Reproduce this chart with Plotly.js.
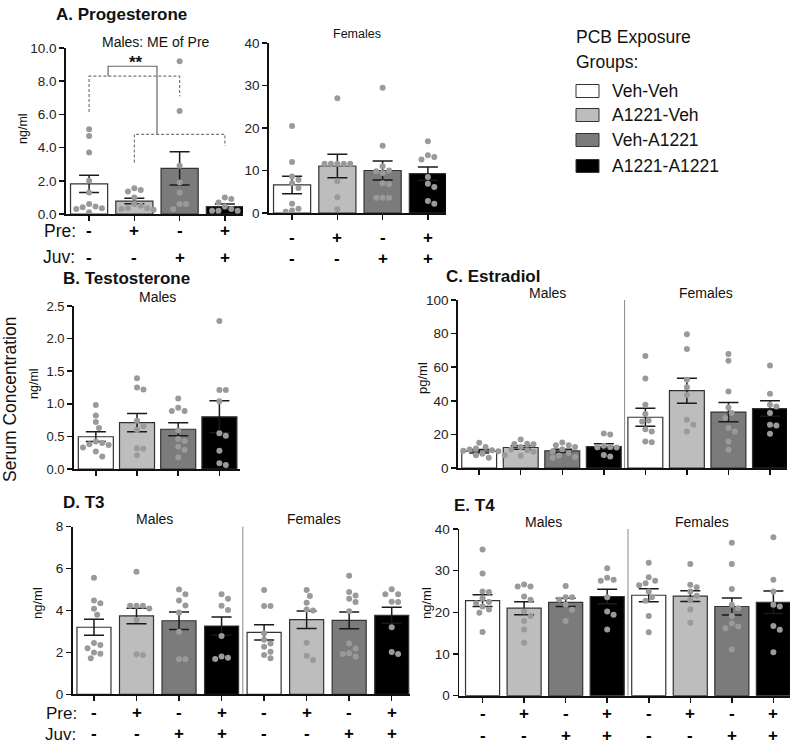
<!DOCTYPE html>
<html><head><meta charset="utf-8">
<script src="https://cdn.plot.ly/plotly-3.0.1.min.js"></script>
<style>html,body{margin:0;padding:0;background:#fff}#chart{width:800px;height:749px}</style>
</head><body><div id="chart"></div>
<script>
const FONT = 'Liberation Sans, Arial, Helvetica, sans-serif';
const W = 800, H = 749;
const fx = px => px / W;
const fy = py => 1 - py / H;

// ---------- data ----------
const groups = ['Veh-Veh', 'A1221-Veh', 'Veh-A1221', 'A1221-A1221'];
const groupColors = ['#ffffff', '#bdbdbd', '#7b7b7b', '#000000'];
const preSigns = ['-', '+', '-', '+'];
const juvSigns = ['-', '-', '+', '+'];

// A. Progesterone, males (ng/ml)
const progMalesMean = [1.81, 0.78, 2.75, 0.44];
const progMalesSem = [0.52, 0.17, 1.0, 0.16];
const progMalesPts = [
  [5.1, 4.7, 3.7, 2.0, 1.3, 0.6, 0.45, 0.4, 0.35, 0.3, 0.1],
  [1.55, 1.45, 1.35, 1.0, 0.6, 0.5, 0.35, 0.3, 0.25, 0.35],
  [9.2, 6.2, 2.9, 1.9, 1.3, 0.6, 0.6, 0.3],
  [1.0, 0.9, 0.7, 0.45, 0.3, 0.2, 0.2, 0.2]
];
// A. Progesterone, females (ng/ml)
const progFemMean = [6.6, 11.06, 10.0, 9.27];
const progFemSem = [2.05, 2.75, 2.25, 1.55];
const progFemPts = [
  [20.5, 12.0, 8.6, 7.8, 7.0, 5.9, 2.2, 1.0, 0.6, 0.3],
  [27.0, 11.6, 11.6, 11.6, 11.6, 11.6, 7.5, 3.7, 0.9],
  [29.5, 15.8, 11.0, 10.0, 9.8, 9.4, 7.0, 6.8, 3.6, 3.6, 3.6],
  [16.9, 13.6, 13.2, 12.6, 8.5, 6.9, 6.1, 2.8, 2.2]
];
// B. Testosterone, males (ng/ml)
const testoMean = [0.495, 0.71, 0.61, 0.80];
const testoSem = [0.075, 0.14, 0.10, 0.245];
const testoPts = [
  [0.98, 0.82, 0.72, 0.63, 0.42, 0.40, 0.38, 0.37, 0.33, 0.27, 0.19],
  [1.39, 1.25, 1.22, 0.74, 0.66, 0.60, 0.32, 0.31, 0.21],
  [1.08, 0.94, 0.89, 0.89, 0.59, 0.46, 0.43, 0.34, 0.29, 0.18],
  [2.27, 1.21, 1.21, 1.04, 0.55, 0.51, 0.28, 0.09, 0.06]
];
// C. Estradiol (pg/ml): males 4 groups, then females 4 groups
const estraMean = [10.0, 12.2, 10.2, 12.7, 30.2, 46.0, 33.3, 35.4];
const estraSem = [1.0, 1.0, 1.0, 1.7, 5.3, 7.4, 5.75, 4.65];
const estraPts = [
  [15.0, 12.5, 11.6, 11.0, 10.5, 10.2, 10.0, 9.6, 8.5, 7.6, 7.6, 6.1],
  [17.0, 14.5, 14.3, 14.1, 12.5, 11.0, 10.6, 9.6, 7.3],
  [15.2, 13.5, 13.6, 12.5, 11.2, 10.0, 9.0, 7.5, 6.5, 6.1],
  [20.6, 20.0, 13.2, 12.5, 12.4, 12.2, 7.8, 6.9],
  [66.7, 53.3, 37.6, 32.1, 28.3, 27.7, 23.0, 21.8, 15.8, 15.4],
  [79.6, 70.9, 52.5, 48.0, 43.5, 28.7, 25.7, 21.8],
  [67.9, 63.8, 45.5, 36.0, 32.7, 29.7, 23.8, 21.8, 15.8, 10.9],
  [61.0, 44.2, 37.6, 36.6, 32.7, 25.7, 25.3, 20.4]
];
// D. T3 (ng/ml)
const t3Mean = [3.2, 3.74, 3.51, 3.26, 2.96, 3.56, 3.53, 3.77];
const t3Sem = [0.385, 0.37, 0.415, 0.43, 0.365, 0.415, 0.4, 0.38];
const t3Pts = [
  [5.56, 4.48, 4.35, 4.08, 3.8, 2.45, 2.35, 2.2, 1.99, 1.93, 1.72],
  [5.85, 4.23, 4.23, 4.23, 4.1, 3.55, 1.91, 1.88],
  [5.0, 4.77, 4.48, 4.24, 3.9, 2.99, 1.67, 1.67],
  [4.77, 4.56, 4.23, 4.02, 2.78, 1.8, 1.75, 1.69],
  [4.98, 4.21, 4.21, 2.92, 2.6, 2.43, 2.27, 2.03, 1.88, 1.72],
  [4.98, 4.69, 4.37, 4.05, 4.0, 2.46, 1.84, 1.64],
  [5.66, 4.88, 4.72, 4.56, 4.4, 3.97, 2.43, 2.19, 1.96, 1.92, 1.8],
  [5.02, 4.77, 4.77, 4.42, 4.4, 3.2, 2.02, 1.92]
];
// E. T4 (ng/ml)
const t4Mean = [22.8, 21.0, 22.4, 23.8, 24.1, 23.9, 21.4, 22.4];
const t4Sem = [1.4, 1.55, 1.0, 1.75, 1.55, 1.3, 2.05, 2.7];
const t4Pts = [
  [35.1, 29.3, 25.0, 24.9, 23.4, 22.5, 22.2, 21.4, 20.7, 19.9, 15.3],
  [26.7, 26.2, 26.2, 23.8, 23.0, 20.2, 19.1, 17.9, 15.9, 12.7],
  [26.3, 23.6, 23.6, 23.0, 21.8, 20.6, 17.9],
  [30.6, 28.3, 27.8, 27.6, 23.6, 20.2, 19.4, 15.9],
  [31.9, 28.4, 27.6, 27.0, 26.5, 25.0, 23.6, 22.8, 19.1, 15.2],
  [31.6, 26.6, 26.0, 25.0, 24.0, 23.0, 20.7, 17.5],
  [36.7, 31.6, 25.6, 21.8, 21.0, 19.1, 17.4, 16.6, 16.2, 11.1],
  [38.0, 27.8, 25.0, 21.8, 21.4, 16.7, 15.8, 10.4]
];
// significance brackets in panel A (males), in data units
const sigBrackets = [
  {x0: 0, x1: 2, top: 8.3, left: 6.15, right: 7.1, dash: '3px,2px'},
  {x0: 1, x1: 3, top: 4.8, left: 3.1, right: 4.1, dash: '3px,2px'},
  {x0: 0.42, x1: 1.5, top: 8.9, left: 8.3, right: 4.8, dash: 'solid'}
];
const sigText = '**';

// ---------- panel geometry ----------
const panels = [
  {xa: 'x',  ya: 'y',  xpx: [66, 243],    ypx: [48, 214],      xr: [-0.51, 3.4],  yr: [0, 10],  dtick: 2,   fmt: '.1f', bw: 0.82, fs: 13.5, mean: progMalesMean, sem: progMalesSem, pts: progMalesPts},
  {xa: 'x2', ya: 'y2', xpx: [269, 446],   ypx: [43, 213],      xr: [-0.51, 3.4],  yr: [0, 40],  dtick: 10,  fmt: 'd',   bw: 0.82, fs: 13.5, mean: progFemMean, sem: progFemSem, pts: progFemPts},
  {xa: 'x3', ya: 'y3', xpx: [74, 240],    ypx: [306, 469],     xr: [-0.53, 3.5],  yr: [0, 2.5], dtick: 0.5, fmt: '.1f', bw: 0.85, fs: 13,   mean: testoMean, sem: testoSem, pts: testoPts},
  {xa: 'x4', ya: 'y4', xpx: [458, 787],   ypx: [300, 468],     xr: [-0.51, 7.41], yr: [0, 100], dtick: 20,  fmt: 'd',   bw: 0.84, fs: 13.5, mean: estraMean, sem: estraSem, pts: estraPts, divider: true},
  {xa: 'x5', ya: 'y5', xpx: [72.7, 410],  ypx: [526.7, 694.3], xr: [-0.5, 7.43],  yr: [0, 8],   dtick: 2,   fmt: 'd',   bw: 0.8,  fs: 13.5, mean: t3Mean, sem: t3Sem, pts: t3Pts, divider: true},
  {xa: 'x6', ya: 'y6', xpx: [459.3, 790], ypx: [529, 695.7],   xr: [-0.56, 7.4],  yr: [0, 40],  dtick: 10,  fmt: 'd',   bw: 0.82, fs: 13.5, mean: t4Mean, sem: t4Sem, pts: t4Pts, divider: true}
];

function swarm(vals, center, pxX, pxY, d) {
  const order = vals.map((v, i) => i).sort((a, b) => vals[b] - vals[a]);
  const placed = [];
  const xs = new Array(vals.length);
  const cands = [0];
  for (let k = 1; k < 16; k++) { cands.push(k * d * 0.5, -k * d * 0.5); }
  for (const i of order) {
    const yp = vals[i] * pxY;
    let chosen = 0;
    for (const c of cands) {
      if (placed.every(p => Math.hypot(p.x - c, p.y - yp) >= d)) { chosen = c; break; }
    }
    placed.push({x: chosen, y: yp});
    xs[i] = center + chosen / pxX;
  }
  return xs;
}

const traces = [];
const layout = {
  width: W, height: H, margin: {l: 0, r: 0, t: 0, b: 0},
  paper_bgcolor: '#ffffff', plot_bgcolor: 'rgba(0,0,0,0)', showlegend: false,
  font: {family: FONT, color: '#111'}, annotations: [], shapes: []
};

panels.forEach((p, k) => {
  const n = p.mean.length;
  const idx = [...Array(n).keys()];
  const cols = idx.map(i => groupColors[i % 4]);
  traces.push({
    type: 'bar', x: idx, y: p.mean, xaxis: p.xa, yaxis: p.ya, width: p.bw,
    marker: {color: cols, line: {color: '#333', width: 1.2}},
    error_y: {type: 'data', array: p.sem, visible: true, color: '#1a1a1a', thickness: 1.5, width: 10},
    hoverinfo: 'skip'
  });
  const pxX = (p.xpx[1] - p.xpx[0]) / (p.xr[1] - p.xr[0]);
  const pxY = (p.ypx[1] - p.ypx[0]) / (p.yr[1] - p.yr[0]);
  let xs = [], ys = [];
  p.pts.forEach((vals, i) => { xs = xs.concat(swarm(vals, i, pxX, pxY, 6.4)); ys = ys.concat(vals); });
  traces.push({
    type: 'scatter', mode: 'markers', x: xs, y: ys, xaxis: p.xa, yaxis: p.ya,
    marker: {size: 6, color: '#9a9a9a', line: {width: 0}}, hoverinfo: 'skip', cliponaxis: false
  });
  const sfx = k ? String(k + 1) : '';
  layout['xaxis' + sfx] = {
    domain: [fx(p.xpx[0]), fx(p.xpx[1])], range: p.xr, anchor: p.ya,
    tickvals: idx, ticktext: idx.map(() => ''), ticks: 'outside', ticklen: 5, tickwidth: 1.5, tickcolor: '#111',
    showline: true, linecolor: '#111', linewidth: 1.8, showgrid: false, zeroline: false, fixedrange: true
  };
  layout['yaxis' + sfx] = {
    domain: [fy(p.ypx[1]), fy(p.ypx[0])], range: p.yr, anchor: p.xa,
    dtick: p.dtick, tick0: 0, tickformat: p.fmt, ticks: 'outside', ticklen: 5, tickwidth: 1.5, tickcolor: '#111',
    tickfont: {family: FONT, size: p.fs, color: '#222'},
    showline: true, linecolor: '#111', linewidth: 1.8, showgrid: false, zeroline: false, fixedrange: true
  };
  if (p.divider) {
    layout.shapes.push({type: 'line', xref: p.xa, yref: p.ya + ' domain', x0: 3.5, x1: 3.5, y0: 0, y1: 1,
      line: {color: '#8a8a8a', width: 1}});
  }
});

// brackets
sigBrackets.forEach(b => {
  layout.shapes.push({
    type: 'path', xref: 'x', yref: 'y',
    path: `M ${b.x0},${b.left} L ${b.x0},${b.top} L ${b.x1},${b.top} L ${b.x1},${b.right}`,
    line: {color: b.dash === 'solid' ? '#666' : '#777', width: 1.2, dash: b.dash}
  });
});
layout.annotations.push({xref: 'x', yref: 'y', x: 1.04, y: 9.1, text: '<b>' + sigText + '</b>', showarrow: false,
  font: {family: FONT, size: 17, color: '#111'}, xanchor: 'center', yanchor: 'middle'});

function P(x, y, text, o = {}) {
  return {xref: 'paper', yref: 'paper', x: fx(x), y: fy(y), text, showarrow: false,
    xanchor: o.xanchor || 'center', yanchor: 'middle', textangle: o.angle || 0, borderpad: 0,
    font: {family: FONT, size: o.size || 14, color: '#111'}};
}
const A = layout.annotations;
// panel titles and sub-headers
A.push(P(55, 14, '<b>A. Progesterone</b>', {size: 17, xanchor: 'left'}));
A.push(P(156, 42, 'Males: ME of Pre', {size: 14}));
A.push(P(357, 34, 'Females', {size: 12.5}));
A.push(P(62, 278, '<b>B. Testosterone</b>', {size: 17, xanchor: 'left'}));
A.push(P(157.5, 297, 'Males', {size: 14}));
A.push(P(445, 276, '<b>C. Estradiol</b>', {size: 17, xanchor: 'left'}));
A.push(P(547, 293, 'Males', {size: 14}));
A.push(P(706, 293, 'Females', {size: 14}));
A.push(P(62, 503, '<b>D. T3</b>', {size: 17, xanchor: 'left'}));
A.push(P(154, 519, 'Males', {size: 14}));
A.push(P(314, 519, 'Females', {size: 14}));
A.push(P(453, 505, '<b>E. T4</b>', {size: 17, xanchor: 'left'}));
A.push(P(543, 522, 'Males', {size: 14}));
A.push(P(702, 522, 'Females', {size: 14}));
// axis titles
A.push(P(23, 129, 'ng/ml', {size: 12.5, angle: -90}));
A.push(P(34, 384, 'ng/ml', {size: 12.5, angle: -90}));
A.push(P(423, 378, 'pg/ml', {size: 13, angle: -90}));
A.push(P(37, 603, 'ng/ml', {size: 13, angle: -90}));
A.push(P(426, 603, 'ng/ml', {size: 13, angle: -90}));
A.push(P(10, 400, 'Serum Concentration', {size: 17.5, angle: -90}));
// Pre / Juv rows
A.push(P(77, 231, 'Pre:', {size: 17.5, xanchor: 'right'}));
A.push(P(76, 257, 'Juv:', {size: 17.5, xanchor: 'right'}));
A.push(P(78, 713, 'Pre:', {size: 17, xanchor: 'right'}));
A.push(P(77, 734, 'Juv:', {size: 17, xanchor: 'right'}));
const signRows = [
  {xa: 'x', n: 4, y1: 230, y2: 257},
  {xa: 'x2', n: 4, y1: 237, y2: 258},
  {xa: 'x5', n: 8, y1: 712, y2: 733},
  {xa: 'x6', n: 8, y1: 713, y2: 735}
];
signRows.forEach(r => {
  for (let i = 0; i < r.n; i++) {
    [[preSigns, r.y1], [juvSigns, r.y2]].forEach(([arr, yy]) => {
      A.push({xref: r.xa, yref: 'paper', x: i, y: fy(yy), text: '<b>' + arr[i % 4] + '</b>', showarrow: false,
        xanchor: 'center', yanchor: 'middle', font: {family: FONT, size: 17, color: '#000'}});
    });
  }
});
// legend
A.push(P(575, 37, 'PCB Exposure', {size: 17.5, xanchor: 'left'}));
A.push(P(575, 62, 'Groups:', {size: 17.5, xanchor: 'left'}));
const legRows = [91, 115, 140, 166];
groups.forEach((g, i) => {
  layout.shapes.push({type: 'rect', xref: 'paper', yref: 'paper', x0: fx(576), x1: fx(599),
    y0: fy(legRows[i] + 6.5), y1: fy(legRows[i] - 6.5), fillcolor: groupColors[i], line: {color: '#333', width: 1}});
  A.push(P(611, legRows[i], g, {size: 17.5, xanchor: 'left'}));
});

Plotly.newPlot('chart', traces, layout, {staticPlot: true, displayModeBar: false});
</script>
</body></html>
